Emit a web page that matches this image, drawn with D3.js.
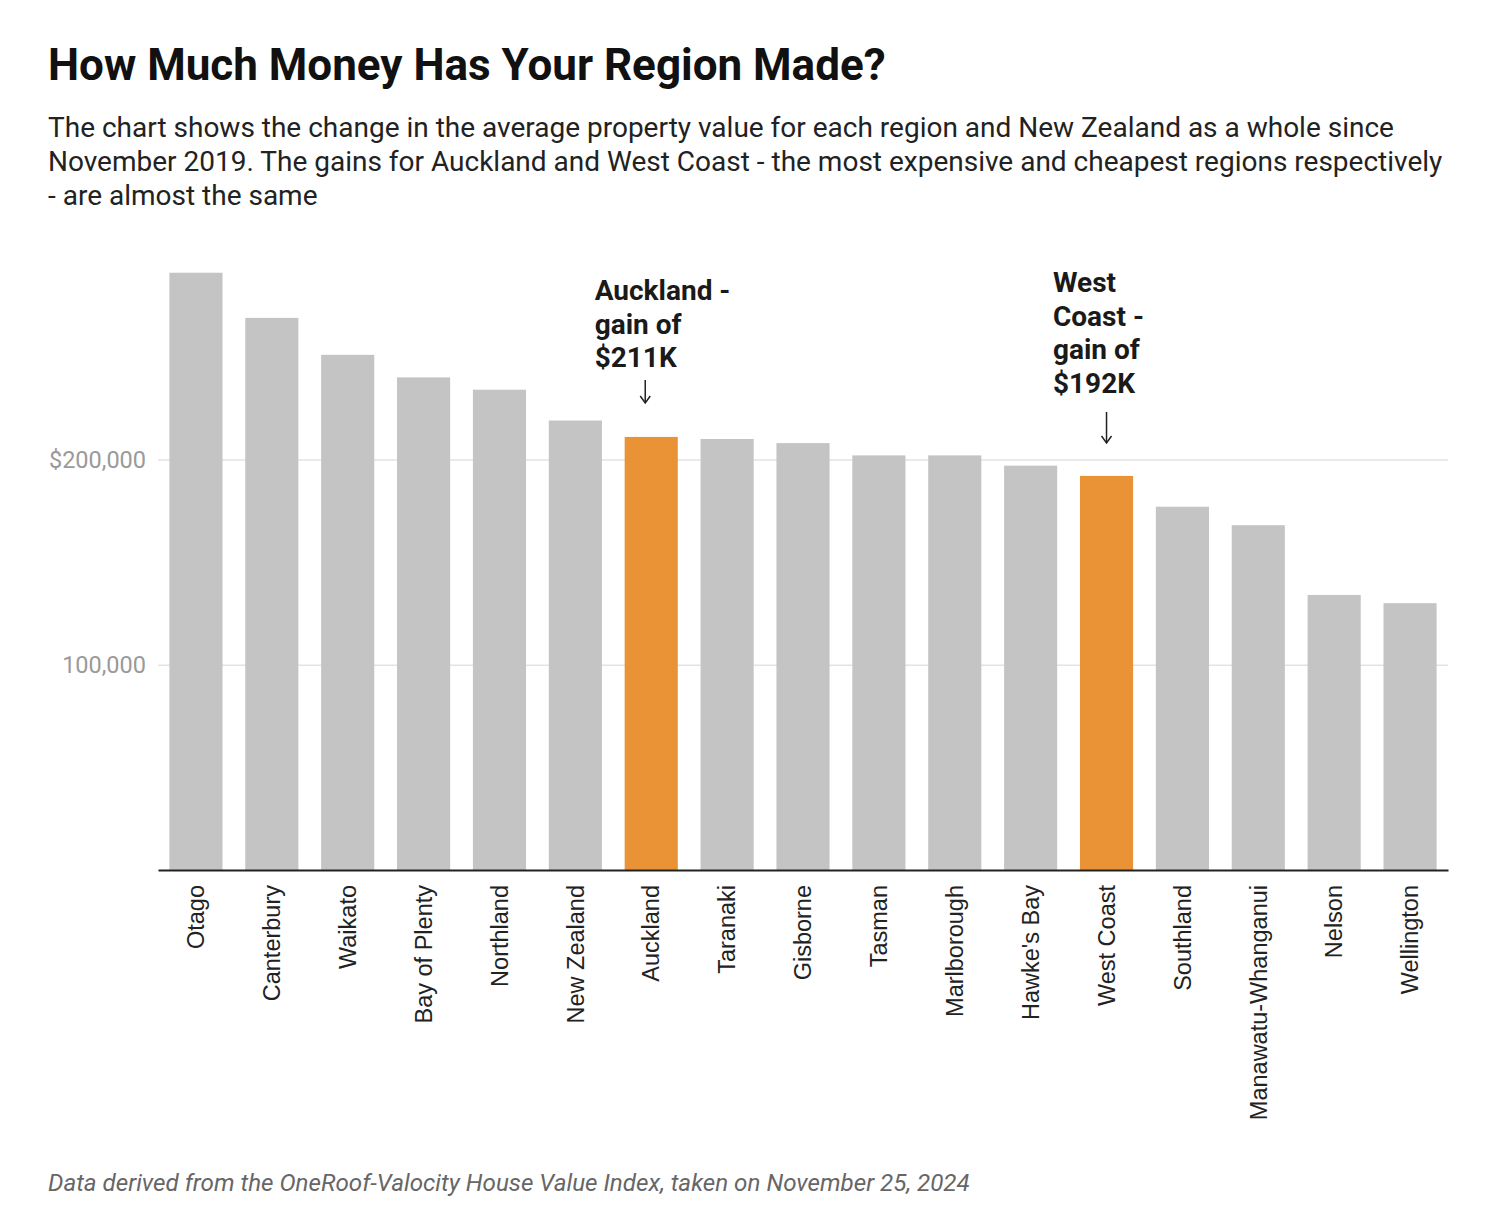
<!DOCTYPE html>
<html><head><meta charset="utf-8">
<script src="https://cdn.jsdelivr.net/npm/d3@7"></script>
<style>
body{margin:0;background:#fff;}
svg{display:block;}
</style></head><body>
<svg id="chart" width="1486" height="1230"></svg>
<script>
const regions = ["Otago","Canterbury","Waikato","Bay of Plenty","Northland","New Zealand","Auckland","Taranaki","Gisborne","Tasman","Marlborough","Hawke's Bay","West Coast","Southland","Manawatu-Whanganui","Nelson","Wellington"];
const gains = [291000,269000,251000,240000,234000,219000,211000,210000,208000,202000,202000,197000,192000,177000,168000,134000,130000];
const highlighted = ["Auckland","West Coast"];
const yTicks = [100000,200000];
const yTickLabels = ["100,000","$200,000"];
const annotations = [
  {region:"Auckland", lines:["Auckland -","gain of","$211K"]},
  {region:"West Coast", lines:["West","Coast -","gain of","$192K"]}
];

const svg = d3.select("#chart");
const left = 158, right = 1448, base = 870;
const x = d3.scaleBand().domain(regions).range([left,right]).paddingInner(0.3).paddingOuter(0.15);
const y = d3.scaleLinear().domain([0,300000]).range([base, base-615.75]);

// Title
svg.append("text").attr("x",48).attr("y",80).attr("font-family","Roboto").attr("font-weight",700)
  .attr("font-size",44).attr("fill","#111").text("How Much Money Has Your Region Made?");
const sub = ["The chart shows the change in the average property value for each region and New Zealand as a whole since",
 "November 2019. The gains for Auckland and West Coast - the most expensive and cheapest regions respectively",
 "- are almost the same"];
sub.forEach((s,i)=>svg.append("text").attr("x",48).attr("y",137+i*34).attr("font-family","Roboto")
  .attr("font-size",28).attr("fill","#222").text(s));

// gridlines + y labels
const ya = svg.append("g").attr("transform",`translate(${left},0)`)
  .call(d3.axisLeft(y).tickValues(yTicks).tickSize(-(right-left)).tickFormat((d,i)=>yTickLabels[i]));
ya.select(".domain").remove();
ya.selectAll(".tick line").attr("stroke","#e3e3e3").attr("stroke-width",1.5);
ya.selectAll(".tick text").attr("x",-12).attr("font-family","Roboto").attr("font-size",23.5).attr("fill","#9a9a9a");

// bars
svg.append("g").selectAll("rect").data(regions).join("rect")
  .attr("x",d=>x(d)).attr("width",x.bandwidth())
  .attr("y",(d,i)=>y(gains[i])).attr("height",(d,i)=>base-y(gains[i]))
  .attr("fill",d=>highlighted.includes(d)?"#e99236":"#c4c4c4");

// x axis
const xa = svg.append("g").attr("transform",`translate(0,${base})`).call(d3.axisBottom(x).tickSize(0));
xa.select(".domain").attr("stroke","#222").attr("stroke-width",2);
xa.selectAll(".tick text").attr("font-family","'Liberation Sans', Arial, sans-serif").attr("font-size",23.5)
  .attr("fill","#222").attr("text-anchor","end").attr("dy","0.35em")
  .attr("transform","translate(0,15) rotate(-90)").attr("x",0).attr("y",0);

// annotations
const arrowSpec = {"Auckland":{top:74,y0:380,y1:403,tx:-30,ax:-6},"West Coast":{top:66,y0:412,y1:443,tx:-27,ax:0}};
annotations.forEach(a=>{
  const sp = arrowSpec[a.region];
  const cx = x(a.region)+x.bandwidth()/2+sp.ax;
  const g = svg.append("g");
  a.lines.forEach((l,i)=>g.append("text").attr("x",x(a.region)+sp.tx).attr("y",sp.top+226+i*33.5)
    .attr("font-family","Roboto").attr("font-weight",700).attr("font-size",28).attr("fill","#1a1a1a").text(l));
  g.append("line").attr("x1",cx).attr("x2",cx).attr("y1",sp.y0).attr("y2",sp.y1).attr("stroke","#222").attr("stroke-width",1.5);
  g.append("path").attr("d",`M${cx-5},${sp.y1-7}L${cx},${sp.y1}L${cx+5},${sp.y1-7}`).attr("fill","none").attr("stroke","#222").attr("stroke-width",1.5);
});

// footer
svg.append("text").attr("x",48).attr("y",1191).attr("font-family","Roboto").attr("font-style","italic")
  .attr("font-size",24.2).attr("fill","#666").text("Data derived from the OneRoof-Valocity House Value Index, taken on November 25, 2024");
</script></body></html>
